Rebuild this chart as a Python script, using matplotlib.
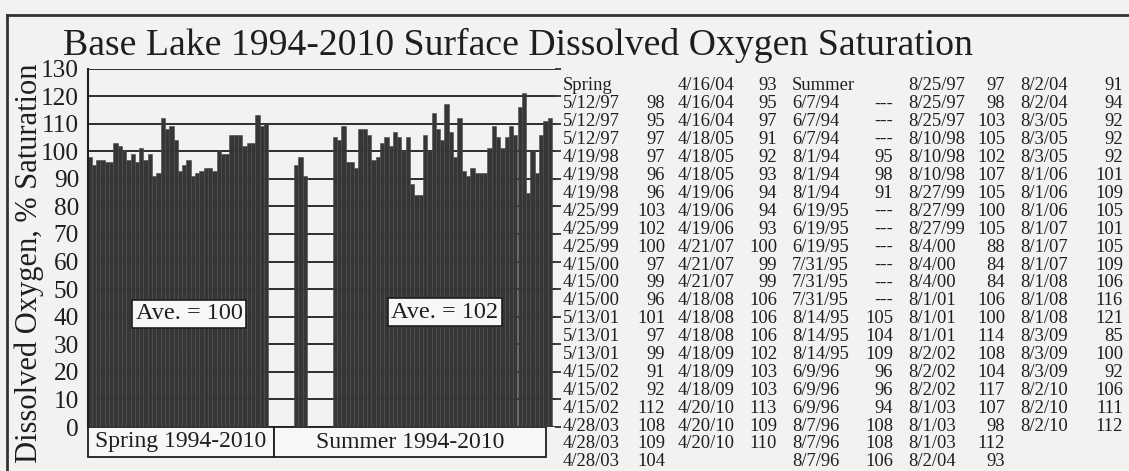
import numpy as np
import matplotlib
matplotlib.use("Agg")
import matplotlib.pyplot as plt
from matplotlib.patches import Rectangle
import matplotlib.transforms as mtransforms

plt.rcParams['font.family'] = ['Liberation Serif', 'DejaVu Serif']

# Spring and summer surface DO readings (% saturation), three depths per visit
spring_dates = ['5/12/97', '5/12/97', '5/12/97', '4/19/98', '4/19/98', '4/19/98',
                '4/25/99', '4/25/99', '4/25/99', '4/15/00', '4/15/00', '4/15/00',
                '5/13/01', '5/13/01', '5/13/01', '4/15/02', '4/15/02', '4/15/02',
                '4/28/03', '4/28/03', '4/28/03', '4/16/04', '4/16/04', '4/16/04',
                '4/18/05', '4/18/05', '4/18/05', '4/19/06', '4/19/06', '4/19/06',
                '4/21/07', '4/21/07', '4/21/07', '4/18/08', '4/18/08', '4/18/08',
                '4/18/09', '4/18/09', '4/18/09', '4/20/10', '4/20/10', '4/20/10']
spring_do = [98, 95, 97, 97, 96, 96, 103, 102, 100, 97, 99, 96, 101, 97, 99,
             91, 92, 112, 108, 109, 104, 93, 95, 97, 91, 92, 93, 94, 94, 93,
             100, 99, 99, 106, 106, 106, 102, 103, 103, 113, 109, 110]

summer_dates = ['6/7/94', '6/7/94', '6/7/94', '8/1/94', '8/1/94', '8/1/94',
                '6/19/95', '6/19/95', '6/19/95', '7/31/95', '7/31/95', '7/31/95',
                '8/14/95', '8/14/95', '8/14/95', '6/9/96', '6/9/96', '6/9/96',
                '8/7/96', '8/7/96', '8/7/96', '8/25/97', '8/25/97', '8/25/97',
                '8/10/98', '8/10/98', '8/10/98', '8/27/99', '8/27/99', '8/27/99',
                '8/4/00', '8/4/00', '8/4/00', '8/1/01', '8/1/01', '8/1/01',
                '8/2/02', '8/2/02', '8/2/02', '8/1/03', '8/1/03', '8/1/03',
                '8/2/04', '8/2/04', '8/2/04', '8/3/05', '8/3/05', '8/3/05',
                '8/1/06', '8/1/06', '8/1/06', '8/1/07', '8/1/07', '8/1/07',
                '8/1/08', '8/1/08', '8/1/08', '8/3/09', '8/3/09', '8/3/09',
                '8/2/10', '8/2/10', '8/2/10']
summer_do = [None, None, None, 95, 98, 91, None, None, None, None, None, None,
             105, 104, 109, 96, 96, 94, 108, 108, 106, 97, 98, 103,
             105, 102, 107, 105, 100, 105, 88, 84, 84, 106, 100, 114,
             108, 104, 117, 107, 98, 112, 93, 91, 94, 92, 92, 92,
             101, 109, 105, 101, 105, 109, 106, 116, 121, 85, 100, 92,
             106, 111, 112]

y_ticks = [0, 10, 20, 30, 40, 50, 60, 70, 80, 90, 100, 110, 120, 130]
gap = 3  # empty slots between the two seasons

W, H = 1129, 471
ink = '#1e1e1e'
paper = '#f2f2f0'
bar_col = '#363636'

fig = plt.figure(figsize=(W / 100, H / 100), dpi=100, facecolor=paper)


def fx(x):
    return x / W


def fy(y):
    return 1 - y / H


# outer frame of the page
fig.add_artist(plt.Line2D([fx(7), 1], [fy(15), fy(15)], color='#333', lw=2))
fig.add_artist(plt.Line2D([fx(7), fx(7)], [fy(15), 0], color='#333', lw=2))

fig.text(fx(518), fy(45), 'Base Lake 1994-2010 Surface Dissolved Oxygen Saturation',
         ha='center', va='center', fontsize=27.2, color=ink)
fig.text(fx(29), fy(263), 'Dissolved Oxygen, % Saturation', rotation=90,
         ha='center', va='center', fontsize=22, color=ink)

left, right, top, bottom = 87.5, 555, 68.5, 427
ax = fig.add_axes([fx(left), fy(bottom), fx(right - left), fy(top) - fy(bottom)])
ax.set_facecolor(paper)

spring_x = np.arange(len(spring_do))
summer_x = np.arange(len(summer_do)) + len(spring_do) + gap
spring_vals = np.array([np.nan if v is None else v for v in spring_do], float)
summer_vals = np.array([np.nan if v is None else v for v in summer_do], float)

ax.bar(spring_x, spring_vals, width=1.0, color=bar_col, edgecolor='#4a4a4a',
       linewidth=0.4, zorder=2)
ax.bar(summer_x, summer_vals, width=1.0, color=bar_col, edgecolor='#4a4a4a',
       linewidth=0.4, zorder=2)

ax.set_xlim(-0.5, -0.5 + (right - left) / 4.3)
ax.set_ylim(0, 130)
ax.set_yticks(y_ticks)
ax.set_yticklabels([str(t) for t in y_ticks], fontsize=18.2, color=ink)
ax.yaxis.grid(True, color=ink, lw=1.3, zorder=1)
ax.set_axisbelow(True)
ax.set_xticks([])
ax.tick_params(axis='y', left=False, right=True, length=4, width=1.2,
               color=ink, pad=2)
for s in ['top', 'right', 'bottom']:
    ax.spines[s].set_visible(False)
ax.spines['left'].set_color(ink)
ax.spines['left'].set_linewidth(1.5)

# season averages
ax.text(23.1, 41, 'Ave. = %d' % round(np.nanmean(spring_vals)), ha='center',
        va='center', fontsize=17.5, color=ink, zorder=4,
        bbox=dict(boxstyle='square,pad=0.15', fc='#f7f7f5', ec=ink, lw=1.2))
ax.text(82.6, 41.7, 'Ave. = %d' % round(np.nanmean(summer_vals)), ha='center',
        va='center', fontsize=17.5, color=ink, zorder=4,
        bbox=dict(boxstyle='square,pad=0.15', fc='#f7f7f5', ec=ink, lw=1.2))

# season label boxes under the bars
trans = mtransforms.blended_transform_factory(ax.transData, ax.transAxes)
box_h = 30 / (bottom - top)
split = len(spring_do) - 0.5 + gap / 2 - 0.2
for x0, x1, label in [(-0.5, split, 'Spring 1994-2010'),
                      (split, summer_x[-1] - 0.9, 'Summer 1994-2010')]:
    ax.add_patch(Rectangle((x0, -box_h), x1 - x0, box_h, transform=trans,
                           fc='#f7f7f5', ec=ink, lw=1.3, clip_on=False))
    ax.text((x0 + x1) / 2, -box_h / 2, label, transform=trans, ha='center',
            va='center', fontsize=17, color=ink)

# data listing to the right of the chart
date_x = [563, 678, 792, 908, 1020]
val_x = [665, 777, 893, 1005, 1123]
row0, row_step, n_rows = 86, 17.9, 22


def cell_text(v):
    return '---' if v is None else str(v)


cells = []
for header, dates, vals in [('Spring', spring_dates, spring_do),
                            ('Summer', summer_dates, summer_do)]:
    block = [(header, '')] + [(d, cell_text(v)) for d, v in zip(dates, vals)]
    # each season starts in a fresh column
    while len(cells) % n_rows:
        cells.append(None)
    cells.extend(block)

for i, c in enumerate(cells):
    if c is None:
        continue
    col, row = divmod(i, n_rows)
    y = fy(row0 + row * row_step)
    fig.text(fx(date_x[col]), y, c[0], ha='left', va='center', fontsize=13.4,
             color=ink)
    if c[1]:
        fig.text(fx(val_x[col]), y, c[1], ha='right', va='center',
                 fontsize=13.4, color=ink)

fig.savefig('out.png', dpi=100, facecolor=paper)
